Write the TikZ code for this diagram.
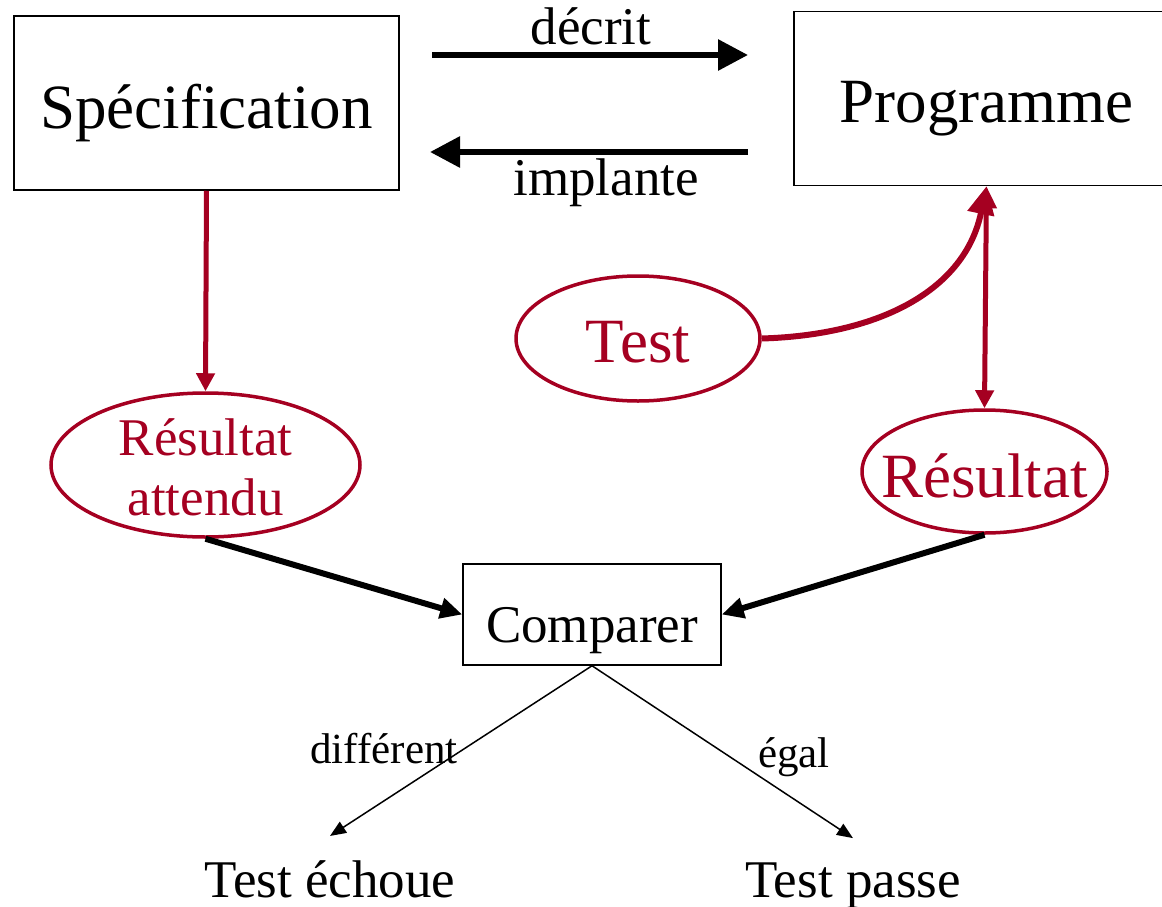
\documentclass[tikz,border=0pt]{standalone}
\usepackage{fontspec}
\setmainfont{Liberation Serif}
\usetikzlibrary{arrows.meta,shapes.geometric,calc}
\definecolor{crim}{RGB}{165,0,33}
\begin{document}
\begin{tikzpicture}[x=1pt,y=-1pt,
  big/.style={font=\fontsize{63}{70}\selectfont},
  mid/.style={font=\fontsize{53}{60}\selectfont},
  small/.style={font=\fontsize{43}{48}\selectfont},
  box/.style={draw, line width=1.5pt, minimum width=385pt, minimum height=174pt, inner sep=0pt},
  cbox/.style={draw, line width=1.5pt, minimum width=258pt, minimum height=101pt, inner sep=0pt},
  oval/.style={draw=crim, ellipse, line width=3.5pt, inner sep=0pt},
  txt/.style={inner sep=0pt, anchor=base},
  bigarrow/.style={line width=6pt, -{Triangle[length=30pt,width=30pt]}},
  redarrow/.style={draw=crim, line width=5pt, -{Triangle[length=18pt,width=18pt]}, color=crim},
  blackarrow/.style={line width=6pt, -{Triangle[length=22pt,width=20pt]}},
  thinarrow/.style={line width=1.5pt, -{Triangle[length=16pt,width=13pt]}}
]
\useasboundingbox (0,0) rectangle (1162,907);

% boxes
\node[box] (spec) at (206.5,103) {};
\node[box] (prog) at (986.5,98.5) {};
\node[cbox] (comp) at (592,614.5) {};
\node[txt, big] (spectxt) at (206.5,128) {Spécification};
\node[txt, big] (progtxt) at (986.5,122) {Programme};
\node[txt, mid] (comptxt) at (592,642) {Comparer};

% ellipses
\node[oval, minimum width=309pt, minimum height=144pt] (ra) at (205.5,465) {};
\node[oval, minimum width=244pt, minimum height=125pt] (test) at (638,338.5) {};
\node[oval, minimum width=245pt, minimum height=123pt] (res) at (984.5,471.5) {};

% ellipse texts
\node[txt, big, text=crim] (testtxt) at (638,362) {Test};
\node[txt, mid, text=crim] (ra1) at (205.5,455) {Résultat};
\node[txt, mid, text=crim] (ra2) at (205.5,515) {attendu};
\node[txt, big, text=crim] (restxt) at (984.5,497) {Résultat};

% outcome texts
\node[txt, mid] (fail) at (330,897) {Test échoue};
\node[txt, mid] (pass) at (853,897) {Test passe};

% top arrows
\coordinate (d1) at (432,55);
\coordinate (d2) at (748,55);
\coordinate (i1) at (748,152);
\coordinate (i2) at (430,152);
\draw[bigarrow] (d1) -- (d2);
\draw[bigarrow] (i1) -- (i2);
\node[txt, mid] (decrit) at (591,45) {décrit};
\node[txt, mid] (impl) at (606,195) {implante};

% red connectors
\draw[redarrow] (spec.south) -- (ra.north);
\draw[draw=crim, line width=6pt, -{Triangle[length=28pt,width=26pt]}, color=crim]
  (test.east) .. controls (880,335) and (965,290) .. (prog.south);
\draw[draw=crim, line width=5pt, {Triangle[length=22pt,width=20pt]}-{Triangle[length=18pt,width=18pt]}, color=crim]
  (prog.south) -- (res.north);

% black connectors to Comparer
\draw[blackarrow] (ra.south) -- (comp.west);
\draw[blackarrow] (res.south) -- (comp.east);

% outcome arrows
\draw[thinarrow] (comp.south) -- ([yshift=24pt]fail.north);
\draw[thinarrow] (comp.south) -- ([yshift=24pt]pass.north);
\node[txt, small] (diff) at (384,763) {différent};
\node[txt, small] (egal) at (794,767) {égal};
\end{tikzpicture}
\end{document}
